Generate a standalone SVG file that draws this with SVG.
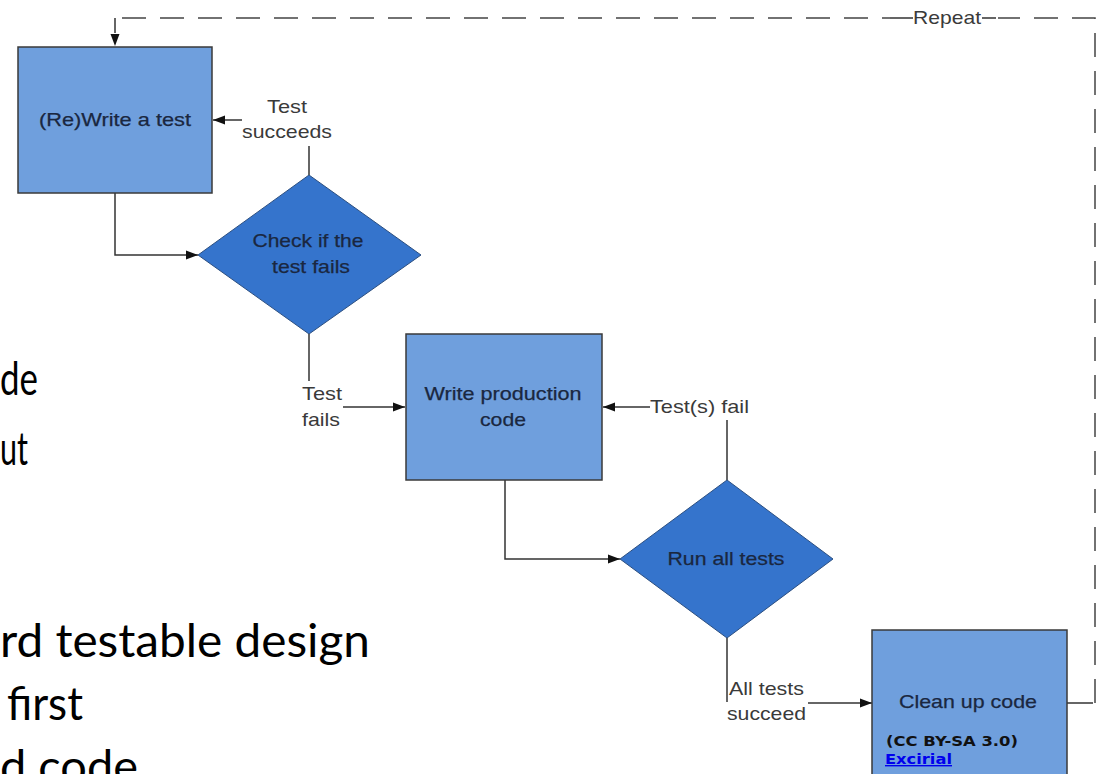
<svg xmlns="http://www.w3.org/2000/svg" width="1100" height="774" viewBox="0 0 1100 774">
<defs>
<style>
.box{fill:#6f9fdd;stroke:#3a3a3a;stroke-width:1.5}
.dia{fill:#3574cc;stroke:#2c4f80;stroke-width:1}
.nt{font-family:"Liberation Sans",Arial,sans-serif;font-size:19px;fill:#1a2740;text-anchor:middle;stroke:#1a2740;stroke-width:0.25}
.lb{font-family:"Liberation Sans",Arial,sans-serif;font-size:19px;fill:#3a3a3a}
.ln{fill:none;stroke:#333;stroke-width:1.5}
.dash{fill:none;stroke:#444;stroke-width:1.5;stroke-dasharray:24 14}
.slide{font-family:Lato,"Open Sans",sans-serif;font-size:46px;fill:#000}
</style>
<marker id="ah" viewBox="0 0 12 10" refX="12" refY="5" markerWidth="12" markerHeight="10" markerUnits="userSpaceOnUse" orient="auto">
<path d="M0,0.5 L12,5 L0,9.5 Z" fill="#111"/>
</marker>
</defs>
<rect width="1100" height="774" fill="#fff"/>

<g id="slide-text">
<text class="slide" x="0" y="395" textLength="38" lengthAdjust="spacingAndGlyphs">de</text>
<text class="slide" x="0" y="465" textLength="28" lengthAdjust="spacingAndGlyphs">ut</text>
<text class="slide" x="0" y="657" textLength="370" lengthAdjust="spacingAndGlyphs">rd testable design</text>
<text class="slide" x="7" y="720" textLength="76" lengthAdjust="spacingAndGlyphs">first</text>
<text class="slide" x="0" y="783" textLength="138" lengthAdjust="spacingAndGlyphs">d code</text>
</g>

<g id="connectors">
<path class="dash" d="M1095,703 V18 H115"/>
<path class="ln" d="M115,18 V46" stroke-dasharray="15 40" marker-end="url(#ah)"/>
<rect x="890" y="8" width="108" height="20" fill="#fff"/>
<path class="ln" d="M890,18 H913 M982,18 H996"/>
<text class="lb" x="913" y="24" textLength="68" lengthAdjust="spacingAndGlyphs">Repeat</text>
<path class="ln" d="M115,193 V255 H198" marker-end="url(#ah)"/>
<path class="ln" d="M309,175 V146"/>
<path class="ln" d="M242,120 H213" marker-end="url(#ah)"/>
<text class="lb" x="287" y="113" text-anchor="middle" textLength="40" lengthAdjust="spacingAndGlyphs">Test</text>
<text class="lb" x="287" y="138" text-anchor="middle" textLength="90" lengthAdjust="spacingAndGlyphs">succeeds</text>
<path class="ln" d="M309,334 V381"/>
<text class="lb" x="322" y="400" text-anchor="middle" textLength="40" lengthAdjust="spacingAndGlyphs">Test</text>
<text class="lb" x="321" y="426" text-anchor="middle" textLength="38" lengthAdjust="spacingAndGlyphs">fails</text>
<path class="ln" d="M343,407 H405" marker-end="url(#ah)"/>
<path class="ln" d="M505,480 V559 H620" marker-end="url(#ah)"/>
<path class="ln" d="M727,480 V420"/>
<path class="ln" d="M650,407 H603" marker-end="url(#ah)"/>
<text class="lb" x="650" y="413" textLength="99" lengthAdjust="spacingAndGlyphs">Test(s) fail</text>
<path class="ln" d="M727,638 V702"/>
<text class="lb" x="729" y="695" textLength="75" lengthAdjust="spacingAndGlyphs">All tests</text>
<text class="lb" x="727" y="720" textLength="79" lengthAdjust="spacingAndGlyphs">succeed</text>
<path class="ln" d="M808,703 H872" marker-end="url(#ah)"/>
<path class="ln" d="M1067,703 H1093"/>
</g>

<g id="node-rewrite">
<rect class="box" x="18" y="47" width="194" height="146"/>
<text class="nt" x="115" y="126" textLength="152" lengthAdjust="spacingAndGlyphs">(Re)Write a test</text>
</g>

<g id="node-check">
<polygon class="dia" points="309,175 421,255 309,334 198,255"/>
<text class="nt" x="308" y="247" textLength="111" lengthAdjust="spacingAndGlyphs">Check if the</text>
<text class="nt" x="311" y="273" textLength="78" lengthAdjust="spacingAndGlyphs">test fails</text>
</g>

<g id="node-production">
<rect class="box" x="406" y="334" width="196" height="146"/>
<text class="nt" x="503" y="400" textLength="157" lengthAdjust="spacingAndGlyphs">Write production</text>
<text class="nt" x="503" y="426" textLength="46" lengthAdjust="spacingAndGlyphs">code</text>
</g>

<g id="node-run">
<polygon class="dia" points="727,480 833,559 727,638 620,559"/>
<text class="nt" x="726" y="565" textLength="117" lengthAdjust="spacingAndGlyphs">Run all tests</text>
</g>

<g id="node-cleanup">
<rect class="box" x="872" y="630" width="195" height="160"/>
<text class="nt" x="968" y="708" textLength="138" lengthAdjust="spacingAndGlyphs">Clean up code</text>
<text x="886" y="746" font-family="'DejaVu Sans',Verdana,sans-serif" font-weight="bold" font-size="14" fill="#111" textLength="132" lengthAdjust="spacingAndGlyphs">(CC BY-SA 3.0)</text>
<text x="885" y="764" font-family="'DejaVu Sans',Verdana,sans-serif" font-weight="bold" font-size="14" fill="#0000ee" text-decoration="underline" textLength="67" lengthAdjust="spacingAndGlyphs">Excirial</text>
</g>
</svg>
